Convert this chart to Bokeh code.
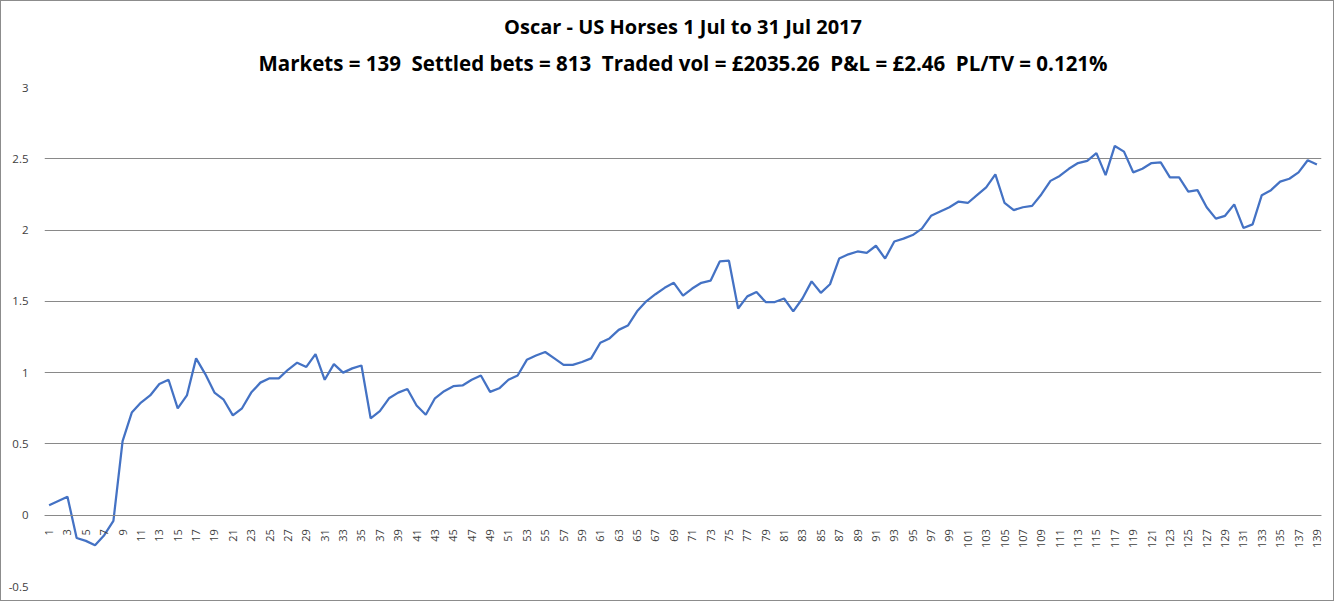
from math import pi
from bokeh.plotting import figure
from bokeh.models import FixedTicker, Title, ColumnDataSource
from bokeh.embed import file_html
from bokeh.resources import INLINE

markets = list(range(1, 140))
pnl = [0.07, 0.10, 0.13, -0.16, -0.18, -0.21, -0.14, -0.04, 0.52, 0.72,
       0.79, 0.84, 0.92, 0.95, 0.75, 0.84, 1.10, 0.99, 0.86, 0.81,
       0.70, 0.75, 0.86, 0.93, 0.96, 0.96, 1.02, 1.07, 1.04, 1.13,
       0.95, 1.06, 1.00, 1.03, 1.05, 0.68, 0.73, 0.82, 0.86, 0.885,
       0.77, 0.705, 0.82, 0.87, 0.905, 0.91, 0.95, 0.98, 0.865, 0.89,
       0.95, 0.98, 1.09, 1.12, 1.145, 1.10, 1.055, 1.055, 1.075, 1.10,
       1.21, 1.24, 1.30, 1.33, 1.43, 1.50, 1.55, 1.595, 1.63, 1.54,
       1.59, 1.63, 1.645, 1.78, 1.785, 1.45, 1.535, 1.565, 1.495, 1.495,
       1.52, 1.43, 1.52, 1.64, 1.56, 1.62, 1.80, 1.83, 1.85, 1.84,
       1.89, 1.80, 1.92, 1.94, 1.965, 2.01, 2.10, 2.13, 2.16, 2.20,
       2.19, 2.245, 2.30, 2.39, 2.19, 2.14, 2.16, 2.17, 2.25, 2.345,
       2.38, 2.43, 2.47, 2.485, 2.54, 2.385, 2.59, 2.55, 2.405, 2.43,
       2.47, 2.475, 2.37, 2.37, 2.27, 2.28, 2.16, 2.08, 2.10, 2.18,
       2.015, 2.04, 2.245, 2.28, 2.34, 2.36, 2.405, 2.49, 2.46]
x_tick_labels = [str(m) for m in markets if m % 2 == 1]
y_ticks = [-0.5, 0, 0.5, 1, 1.5, 2, 2.5, 3]
y_tick_labels = ["-0.5", "0", "0.5", "1", "1.5", "2", "2.5", "3"]

title1 = "Oscar - US Horses 1 Jul to 31 Jul 2017"
title2 = "Markets = 139  Settled bets = 813  Traded vol = \u00a32035.26  P&L = \u00a32.46  PL/TV = 0.121%"
# keep the double spaces visible in SVG text
title2_shown = title2.replace("  ", " \u00a0")

src = ColumnDataSource(dict(x=markets, y=pnl))

p = figure(width=1334, height=601, output_backend="svg", toolbar_location=None,
           x_range=(0.5, 139.5), y_range=(-0.5, 3),
           min_border_left=43, min_border_right=14, min_border_bottom=16, min_border_top=86,
           styles={"border": "1px solid #8c8c8c", "box-sizing": "border-box"})
p.outline_line_color = None
p.background_fill_color = "white"
p.border_fill_color = "white"

FONT = "Open Sans"
p.title.text = title1
p.title.align = "center"
p.title.text_font = FONT
p.title.text_font_size = "20px"
p.title.text_font_style = "bold"
p.title.text_color = "#000000"
p.title.vertical_align = "bottom"
p.title.standoff = 0
t2 = Title(text=title2_shown, align="center", text_font=FONT, text_font_size="20.5px",
           text_font_style="bold", text_color="#000000", standoff=18, vertical_align="top")
p.add_layout(t2, "above")

p.line("x", "y", source=src, line_color="#4472C4", line_width=2.25)

# y axis
p.yaxis.ticker = FixedTicker(ticks=y_ticks)
p.yaxis.major_label_overrides = {t: l for t, l in zip(y_ticks, y_tick_labels)}
p.yaxis.axis_line_color = None
p.yaxis.major_tick_line_color = None
p.yaxis.minor_tick_line_color = None
p.yaxis.major_label_standoff = 10
p.yaxis.major_label_text_font = FONT
p.yaxis.major_label_text_font_size = "11.5px"
p.yaxis.major_label_text_color = "#404040"

# x axis at y = 0
xa = p.xaxis[0]
xa.fixed_location = 0
xa.ticker = FixedTicker(ticks=[int(s) for s in x_tick_labels])
xa.major_label_orientation = pi / 2
xa.axis_line_color = "#898989"
xa.major_tick_line_color = None
xa.minor_tick_line_color = None
xa.major_label_standoff = 8
xa.major_label_text_font = FONT
xa.major_label_text_font_size = "11px"
xa.major_label_text_color = "#404040"

p.xgrid.grid_line_color = None
p.ygrid.ticker = FixedTicker(ticks=y_ticks)
p.ygrid.grid_line_color = "#898989"
p.ygrid.grid_line_width = 1

open("out.html", "w").write(file_html(p, INLINE))
